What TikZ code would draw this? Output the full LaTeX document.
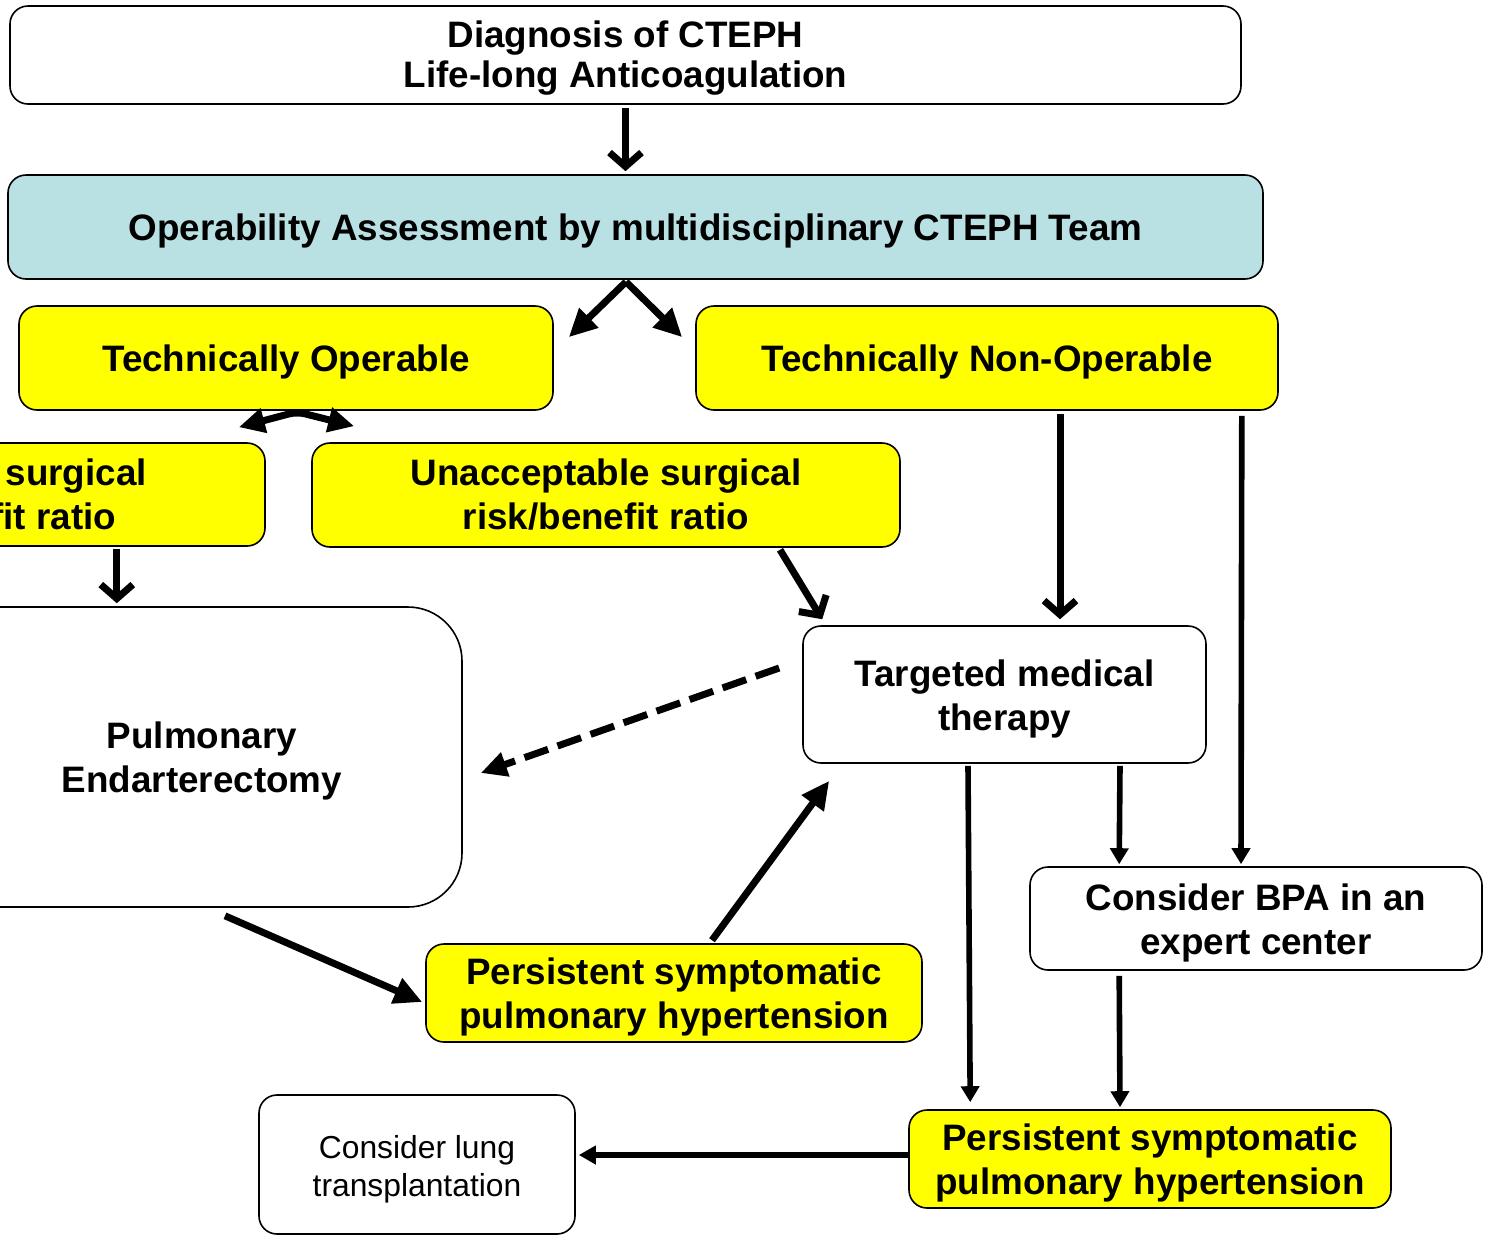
\documentclass[tikz,border=0pt]{standalone}
\usepackage{fontspec}
\setmainfont{Liberation Sans}
\usetikzlibrary{arrows.meta,calc}
\definecolor{tblue}{RGB}{185,224,226}
\definecolor{tyellow}{RGB}{255,255,0}
\newcommand{\mystrut}[1][17.5pt]{\rule{0pt}{#1}}
\begin{document}
\begin{tikzpicture}[x=0.5pt,y=-0.5pt,
  box/.style={draw=black, line width=0.8pt, rounded corners=9pt, align=center, inner sep=0pt,
    font=\bfseries\fontsize{18.4}{22}\selectfont},
  ybox/.style={box, fill=tyellow},
  wbox/.style={box, fill=white},
  barb/.style={line width=3.5pt, -{Straight Barb[length=7pt,width=16pt]}},
  tri/.style={line width=3.5pt, -{Triangle[length=14pt,width=13pt]}},
  thinarr/.style={line width=2.8pt, -{Triangle[length=8pt,width=9pt]}},
  dasharr/.style={line width=3.5pt, dash pattern=on 12.5pt off 5pt, -{Triangle[length=13pt,width=12pt]}}
]
\useasboundingbox (0,0) rectangle (1489,1239);
\clip (0,0) rectangle (1489,1239);

\node[wbox, minimum width=615.5pt, minimum height=49pt, font=\bfseries\fontsize{18.4}{20}\selectfont]
  (diag) at (625.5,55) {\mystrut[16.3pt]Diagnosis of CTEPH\\Life-long Anticoagulation};
\node[box, fill=tblue, minimum width=627.5pt, minimum height=52pt]
  (oper) at (635.5,227) {\mystrut Operability Assessment by multidisciplinary CTEPH Team};
\node[ybox, minimum width=267pt, minimum height=52pt] (to) at (286,358) {\mystrut Technically Operable};
\node[ybox, minimum width=291pt, minimum height=52pt] (tno) at (987,358) {\mystrut Technically Non-Operable};
\node[ybox, minimum width=292pt, minimum height=51.5pt] (acc) at (-27,494.5) {Acceptable surgical\\risk/benefit ratio};
\node[ybox, minimum width=294pt, minimum height=52pt] (unacc) at (606,495) {Unacceptable surgical\\risk/benefit ratio};
\node[wbox, rounded corners=27pt, minimum width=260pt, minimum height=150pt] (pea) at (202,757) {\mystrut Pulmonary\\Endarterectomy};
\node[wbox, minimum width=201.5pt, minimum height=68.5pt] (tmt) at (1004.5,694.5) {\mystrut Targeted medical\\therapy};
\node[wbox, minimum width=226pt, minimum height=51.5pt] (bpa) at (1256,918.5) {\mystrut Consider BPA in an\\expert center};
\node[ybox, minimum width=248pt, minimum height=49pt] (pmid) at (674,993) {\mystrut Persistent symptomatic\\pulmonary hypertension};
\node[ybox, minimum width=241pt, minimum height=49pt] (pbot) at (1150,1159) {\mystrut Persistent symptomatic\\pulmonary hypertension};
\node[wbox, minimum width=158pt, minimum height=69.5pt, font=\mdseries\fontsize{15.9}{19}\selectfont]
  (lung) at (417,1164.5) {\mystrut[16.6pt]Consider lung\\transplantation};

% connectors
\draw[barb] ($(diag.south)+(0,3)$) -- ($(oper.north)+(-10,-3)$);
\draw[tri] ($(oper.south)+(-9.5,2)$) -- ($(to.north east)+(15,32)$);
\draw[tri] ($(oper.south)+(-9.5,2)$) -- ($(tno.north west)+(-13,32)$);
\draw[line width=3.5pt, rounded corners=4pt, {Triangle[length=13pt,width=12pt]}-{Triangle[length=13pt,width=12pt]}]
  ($(acc.north east)+(-27,-15)$) -- ($(to.south)+(11,1)$) -- ($(unacc.north west)+(43,-16)$);
\draw[barb] ($(acc.south east)+(-149,2)$) -- ($(pea.north -| acc.south east)+(-149,-3)$);
\draw[barb] ($(unacc.south)+(174,2)$) -- ($(tmt.north west)+(20,-6)$);
\draw[barb] ($(tno.south)+(73,3)$) -- ($(tmt.north)+(55.5,-6)$);
\draw[thinarr] ($(tno.south east)+(-37,5)$) -- ($(bpa.north)+(-15,-2)$);
\draw[dasharr] ($(tmt.west)+(-23,-26.5)$) -- ($(pea.east)+(18,16)$);
\draw[tri] ($(pea.south)+(23,8)$) -- ($(pmid.west)+(-3,9)$);
\draw[tri] ($(pmid.north)+(38,-3)$) -- ($(tmt.south west)+(27,17)$);
\draw[thinarr] ($(tmt.south)+(-36.5,2)$) -- ($(pbot.north west)+(62,-7)$);
\draw[thinarr] ($(tmt.south)+(115.5,2)$) -- ($(bpa.north west)+(90,-2)$);
\draw[thinarr] ($(bpa.south west)+(90,5)$) -- ($(pbot.north)+(-30,-2)$);
\draw[line width=3pt, -{Triangle[length=8.5pt,width=9pt]}] ($(pbot.west)+(0,-4)$) -- ($(lung.east)+(3,-9.5)$);
\end{tikzpicture}
\end{document}
